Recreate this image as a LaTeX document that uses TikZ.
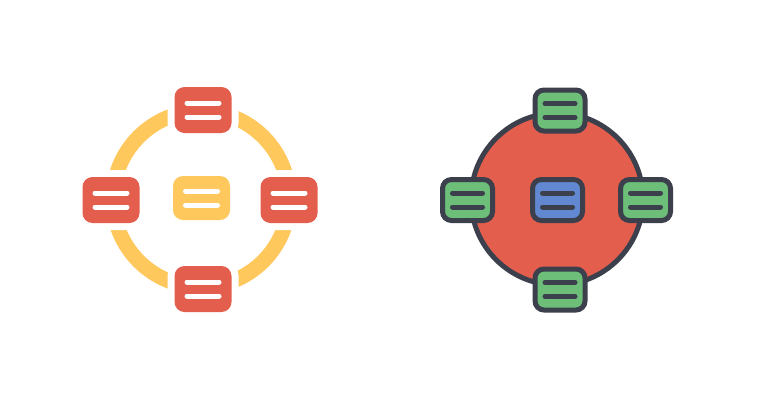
\documentclass[tikz,border=0pt]{standalone}
\usetikzlibrary{positioning}

\definecolor{ringyellow}{RGB}{254,200,92}
\definecolor{boxred}{RGB}{228,94,78}
\definecolor{boxgreen}{RGB}{108,190,120}
\definecolor{boxblue}{RGB}{98,136,210}
\definecolor{outline}{RGB}{60,64,76}

\tikzset{
  flatbox/.style={rectangle,rounded corners=10pt,inner sep=0pt,
    minimum width=57pt,minimum height=46pt,fill=boxred,
    preaction={draw=white,line width=14pt}},
  linebox/.style={rectangle,rounded corners=9pt,inner sep=0pt,
    minimum width=50pt,minimum height=41pt,fill=boxgreen,
    draw=outline,line width=5pt},
  bar/.style={line width=5pt,line cap=round}
}

\newcommand{\boxbars}[3]{%
  \draw[bar,#2] ([xshift=-#3,yshift=7pt]#1.center) -- ([xshift=#3,yshift=7pt]#1.center);
  \draw[bar,#2] ([xshift=-#3,yshift=-7pt]#1.center) -- ([xshift=#3,yshift=-7pt]#1.center);}

\begin{document}
\begin{tikzpicture}[x=1pt,y=-1pt]
    \useasboundingbox (0,0) rectangle (757,400);

    % left: ring with boxes
    \draw[ringyellow,line width=15pt] (201,199) circle (88);
    \node[flatbox] (ltop) at (203,110) {};
    \node[flatbox] (lleft) at (111,200) {};
    \node[flatbox] (lright) at (289,200) {};
    \node[flatbox] (lbottom) at (203,289) {};
    \node[rectangle,rounded corners=10pt,inner sep=0pt,minimum width=57pt,
        minimum height=44pt,fill=ringyellow] (lcenter) at (201.5,198) {};
    \foreach \n in {ltop,lleft,lright,lbottom,lcenter}{
        \boxbars{\n}{white}{16pt}
    }

    % right: filled circle with outlined boxes
    \draw[fill=boxred,draw=outline,line width=5pt] (557,199) circle (86);
    \node[linebox] (rtop) at (560,110.5) {};
    \node[linebox] (rleft) at (467.5,200) {};
    \node[linebox] (rright) at (645.5,200) {};
    \node[linebox] (rbottom) at (560,289.5) {};
    \node[linebox,fill=boxblue] (rcenter) at (557.5,200) {};
    \foreach \n in {rtop,rleft,rright,rbottom,rcenter}{
        \boxbars{\n}{outline}{15pt}
    }
\end{tikzpicture}
\end{document}
